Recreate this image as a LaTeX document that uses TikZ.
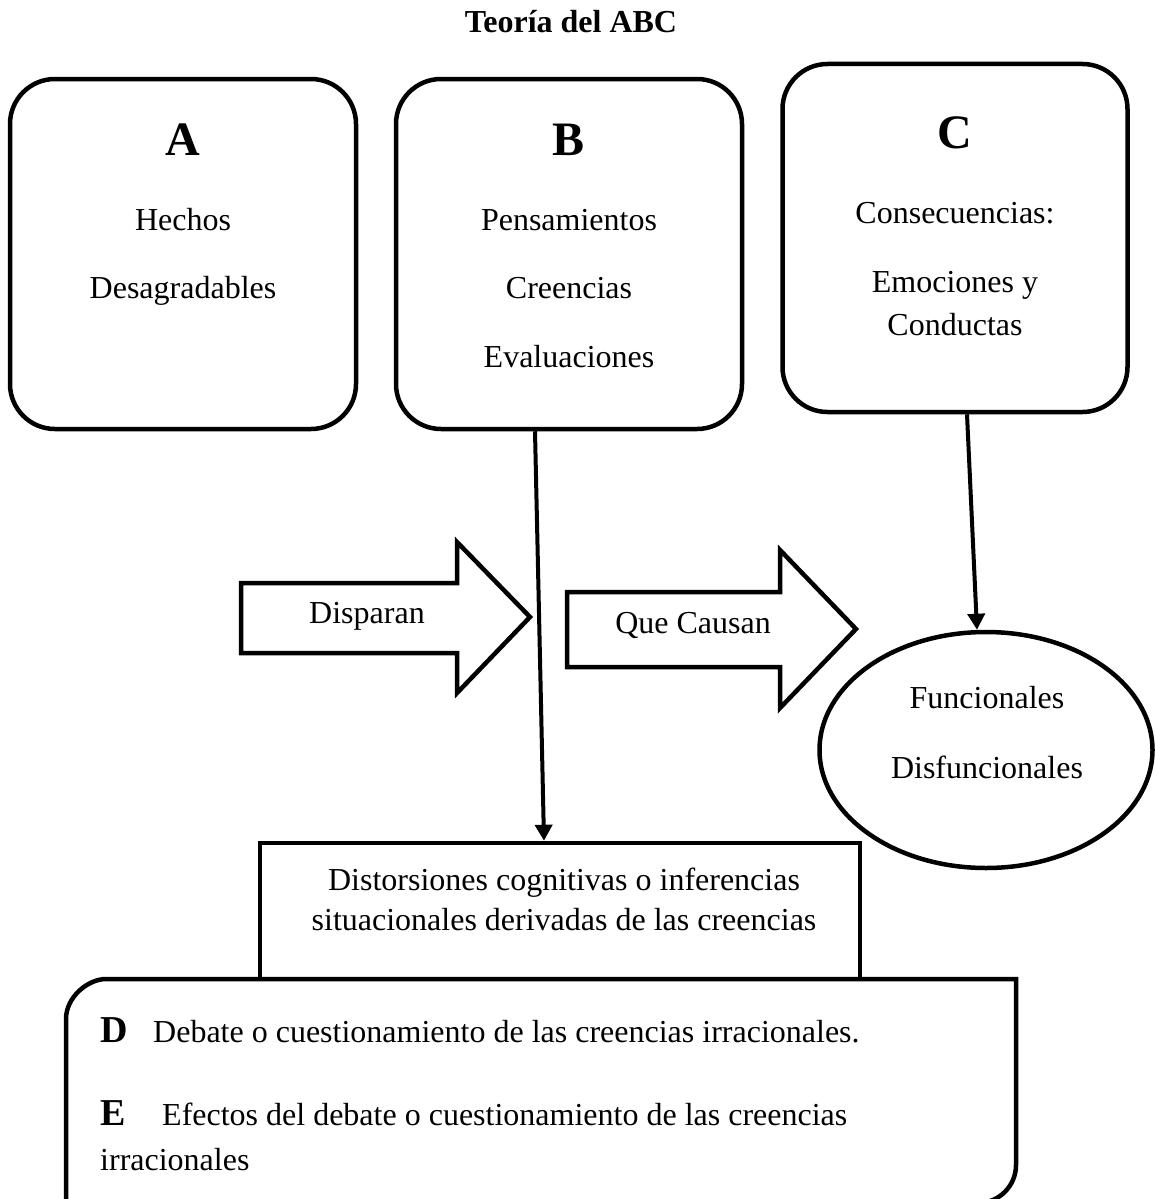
\documentclass[tikz,border=0pt]{standalone}
\usepackage{fontspec}
\setmainfont{Liberation Serif}
\usetikzlibrary{arrows.meta,shapes.geometric}
\begin{document}
\begin{tikzpicture}[x=1pt,y=-1pt,
  ln/.style={line width=4.5pt},
  rbox/.style={draw,ln,rounded corners=45pt,minimum width=346pt,minimum height=350pt,inner sep=0pt},
  txt/.style={anchor=base,font=\fontsize{32}{38}\selectfont,inner sep=0pt},
  big/.style={anchor=base,font=\fontsize{48}{56}\selectfont\bfseries,inner sep=0pt},
  de/.style={anchor=base west,font=\fontsize{38}{44}\selectfont\bfseries,inner sep=0pt},
  detxt/.style={anchor=base west,font=\fontsize{32}{38}\selectfont,inner sep=0pt},
  conn/.style={line width=4pt,-{Triangle[width=17pt,length=16pt]}},
  blockarrow/.style={draw,fill=white,ln,line join=miter},
]
\useasboundingbox (0,0) rectangle (1155,1199);

% title
\node[txt,font=\fontsize{32}{38}\selectfont\bfseries] (title) at (571,33) {Teoría del ABC};

% boxes
\node[rbox] (A) at (183,254) {};
\node[rbox] (B) at (569,254) {};
\node[rbox,minimum width=345pt,minimum height=348pt] (C) at (955,238) {};

\node[big] (Al) at (183,155) {A};
\node[txt] (A1) at (183,230) {Hechos};
\node[txt] (A2) at (183,298) {Desagradables};

\node[big] (Bl) at (569,155) {B};
\node[txt] (B1) at (569,230) {Pensamientos};
\node[txt] (B2) at (569,298) {Creencias};
\node[txt] (B3) at (569,367) {Evaluaciones};

\node[big] (Cl) at (955,148) {C};
\node[txt] (C1) at (955,223) {Consecuencias:};
\node[txt] (C2) at (955,292) {Emociones y};
\node[txt] (C3) at (955,335) {Conductas};

% ellipse
\node[draw,ln,ellipse,minimum width=333pt,minimum height=236pt,inner sep=0pt] (F) at (986,750) {};
\node[txt] (F1) at (987,708) {Funcionales};
\node[txt] (F2) at (987,778) {Disfuncionales};

% block arrows
\draw[blockarrow] (241,583) -- (457,583) -- (457,542) -- (530,617) -- (457,693) -- (457,653) -- (241,653) -- cycle;
\node[txt] (disp) at (367,623) {Disparan};
\draw[blockarrow] (567,592) -- (780,592) -- (780,550) -- (856,629) -- (780,708) -- (780,667) -- (567,667) -- cycle;
\node[txt] (causan) at (693,633) {Que Causan};

% distortion box
\node[draw,ln,minimum width=600pt,minimum height=136pt,inner sep=0pt] (dist) at (560,911) {};
\node[txt] (d1) at (564,890) {Distorsiones cognitivas o inferencias};
\node[txt] (d2) at (564,930) {situacionales derivadas de las creencias};

% bottom box
\draw[ln,fill=white] (66,1215) -- (66,1019) .. controls (66,997) and (88,979) .. (106,979) -- (1016,979) -- (1016,1165) .. controls (1016,1186) and (999,1203) .. (978,1203) -- (40,1203);
\node[de] (Dl) at (100,1042) {D};
\node[detxt] (Dt) at (153,1042) {Debate o cuestionamiento de las creencias irracionales.};
\node[de] (El) at (100,1125) {E};
\node[detxt] (Et) at (162,1125) {Efectos del debate o cuestionamiento de las creencias};
\node[detxt] (Et2) at (100,1170) {irracionales};

% connectors
\draw[conn] ([xshift=-34pt]B.south) -- ([xshift=-16pt]dist.north);
\draw[conn] ([xshift=12pt]C.south) -- ([xshift=-9pt]F.north);
\end{tikzpicture}
\end{document}
